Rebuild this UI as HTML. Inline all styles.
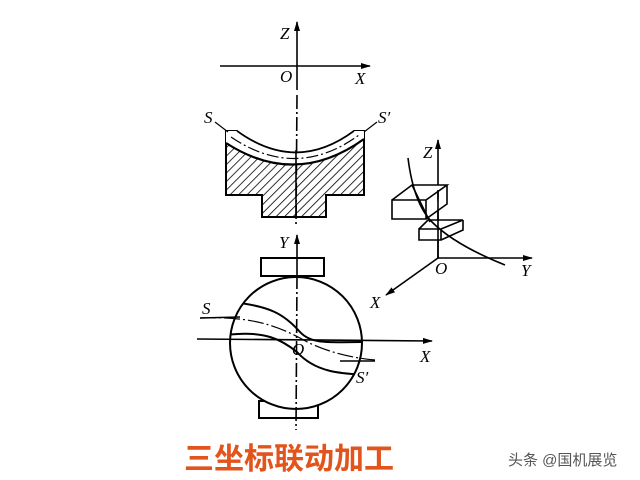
<!DOCTYPE html>
<html><head><meta charset="utf-8"><style>
html,body{margin:0;padding:0;background:#fff;}
svg{display:block;}
text{font-family:"Liberation Serif",serif;font-style:italic;fill:#000;}
</style></head><body>
<svg width="640" height="480" viewBox="0 0 640 480" xmlns="http://www.w3.org/2000/svg">
<defs>
<marker id="a" markerWidth="10" markerHeight="8" refX="9" refY="4" orient="auto" markerUnits="userSpaceOnUse"><path d="M0,1 L10,4 L0,7 Z" fill="#000"/></marker>
<pattern id="h" width="6" height="6" patternUnits="userSpaceOnUse" patternTransform="rotate(45)"><line x1="0" y1="0" x2="0" y2="6" stroke="#000" stroke-width="1.6"/></pattern>
<clipPath id="c"><circle cx="296" cy="343" r="66"/></clipPath>
</defs>
<g stroke="#000" fill="none" stroke-width="1.6">
<line x1="297" y1="90" x2="297" y2="22" marker-end="url(#a)"/>
<line x1="297" y1="95" x2="296" y2="225" stroke-dasharray="14,3,2,3"/>
<line x1="220" y1="66" x2="370" y2="66" marker-end="url(#a)"/>
<path d="M226,131 L237,131 Q296,174 354,131 L364,131 L364,195 L326,195 L326,217 L262,217 L262,195 L226,195 Z" fill="url(#h)" stroke-width="2"/>
<path d="M226,131 L237,131 Q296,174 354,131 L364,131 L364,139 Q296,188 226,143 Z" fill="#fff" stroke="none"/>
<path d="M237,131 Q296,174 354,131" stroke-width="1.6"/>
<path d="M226,143 Q296,188 364,139" stroke-width="2.2"/>
<path d="M231,137 Q296,181 359,135" stroke-width="1.2" stroke-dasharray="12,3,2,3"/>
<line x1="296" y1="150" x2="296" y2="217"/>
<line x1="215" y1="122" x2="228" y2="132" stroke-width="1.2"/>
<line x1="377" y1="122" x2="364" y2="132" stroke-width="1.2"/>
<rect x="261" y="258" width="63" height="18" fill="#fff" stroke-width="2"/>
<rect x="259" y="401" width="59" height="17" fill="#fff" stroke-width="2"/>
<circle cx="296" cy="343" r="66" fill="#fff" stroke-width="2"/>
<g clip-path="url(#c)" stroke-width="2">
<path d="M228,302 C270,305 285,315 300,332 C312,345 330,342 370,342"/>
<path d="M226,335 C265,330 282,340 297,352 C315,372 340,374 370,375"/>
</g>
<path d="M200,318 C250,316 275,325 300,338 C320,350 350,358 375,360" stroke-width="1.2" stroke-dasharray="16,3,2,3"/>
<line x1="200" y1="318" x2="240" y2="317" stroke-width="1.6"/>
<line x1="340" y1="361" x2="375" y2="361" stroke-width="1.6"/>
<line x1="197" y1="339" x2="432" y2="341" marker-end="url(#a)"/>
<line x1="297" y1="275" x2="297" y2="235" marker-end="url(#a)"/>
<line x1="297" y1="275" x2="296" y2="430" stroke-dasharray="14,3,2,3"/>
<line x1="438" y1="258" x2="438" y2="140" marker-end="url(#a)"/>
<line x1="438" y1="258" x2="532" y2="258" marker-end="url(#a)"/>
<line x1="438" y1="258" x2="386" y2="295" marker-end="url(#a)"/>
<path d="M392,200 L426,200 L426,219 L392,219 Z M392,200 L412,185 L447,185 L426,200 M447,185 L447,204 L426,219" fill="#fff"/>
<path d="M419,229 L441,229 L441,240 L419,240 Z M419,229 L428,220 L463,220 L441,229 M463,220 L463,230 L441,240" fill="#fff"/>
<path d="M408,158 C412,190 420,210 432,222 C450,240 480,255 505,265"/>
<line x1="412" y1="185" x2="430" y2="222"/>
<line x1="438" y1="190" x2="438" y2="258"/>
</g>
<g font-size="17">
<text x="280" y="39">Z</text><text x="280" y="82">O</text><text x="355" y="84">X</text>
<text x="204" y="123">S</text><text x="378" y="123">S′</text>
<text x="279" y="248">Y</text><text x="202" y="314">S</text><text x="292" y="355">O</text>
<text x="420" y="362">X</text><text x="356" y="383">S′</text>
<text x="423" y="158">Z</text><text x="435" y="274">O</text><text x="521" y="276">Y</text><text x="370" y="308">X</text>
</g>
<text x="184" y="469" style="font-family:'Liberation Sans','Noto Sans CJK SC',sans-serif;font-style:normal;font-weight:bold;font-size:30px;fill:#e2541b;">三坐标联动加工</text>
<text x="508" y="465" style="font-family:'Liberation Sans','Noto Sans CJK SC',sans-serif;font-style:normal;font-size:15px;fill:#555;">头条 @国机展览</text>
</svg>
</body></html>
